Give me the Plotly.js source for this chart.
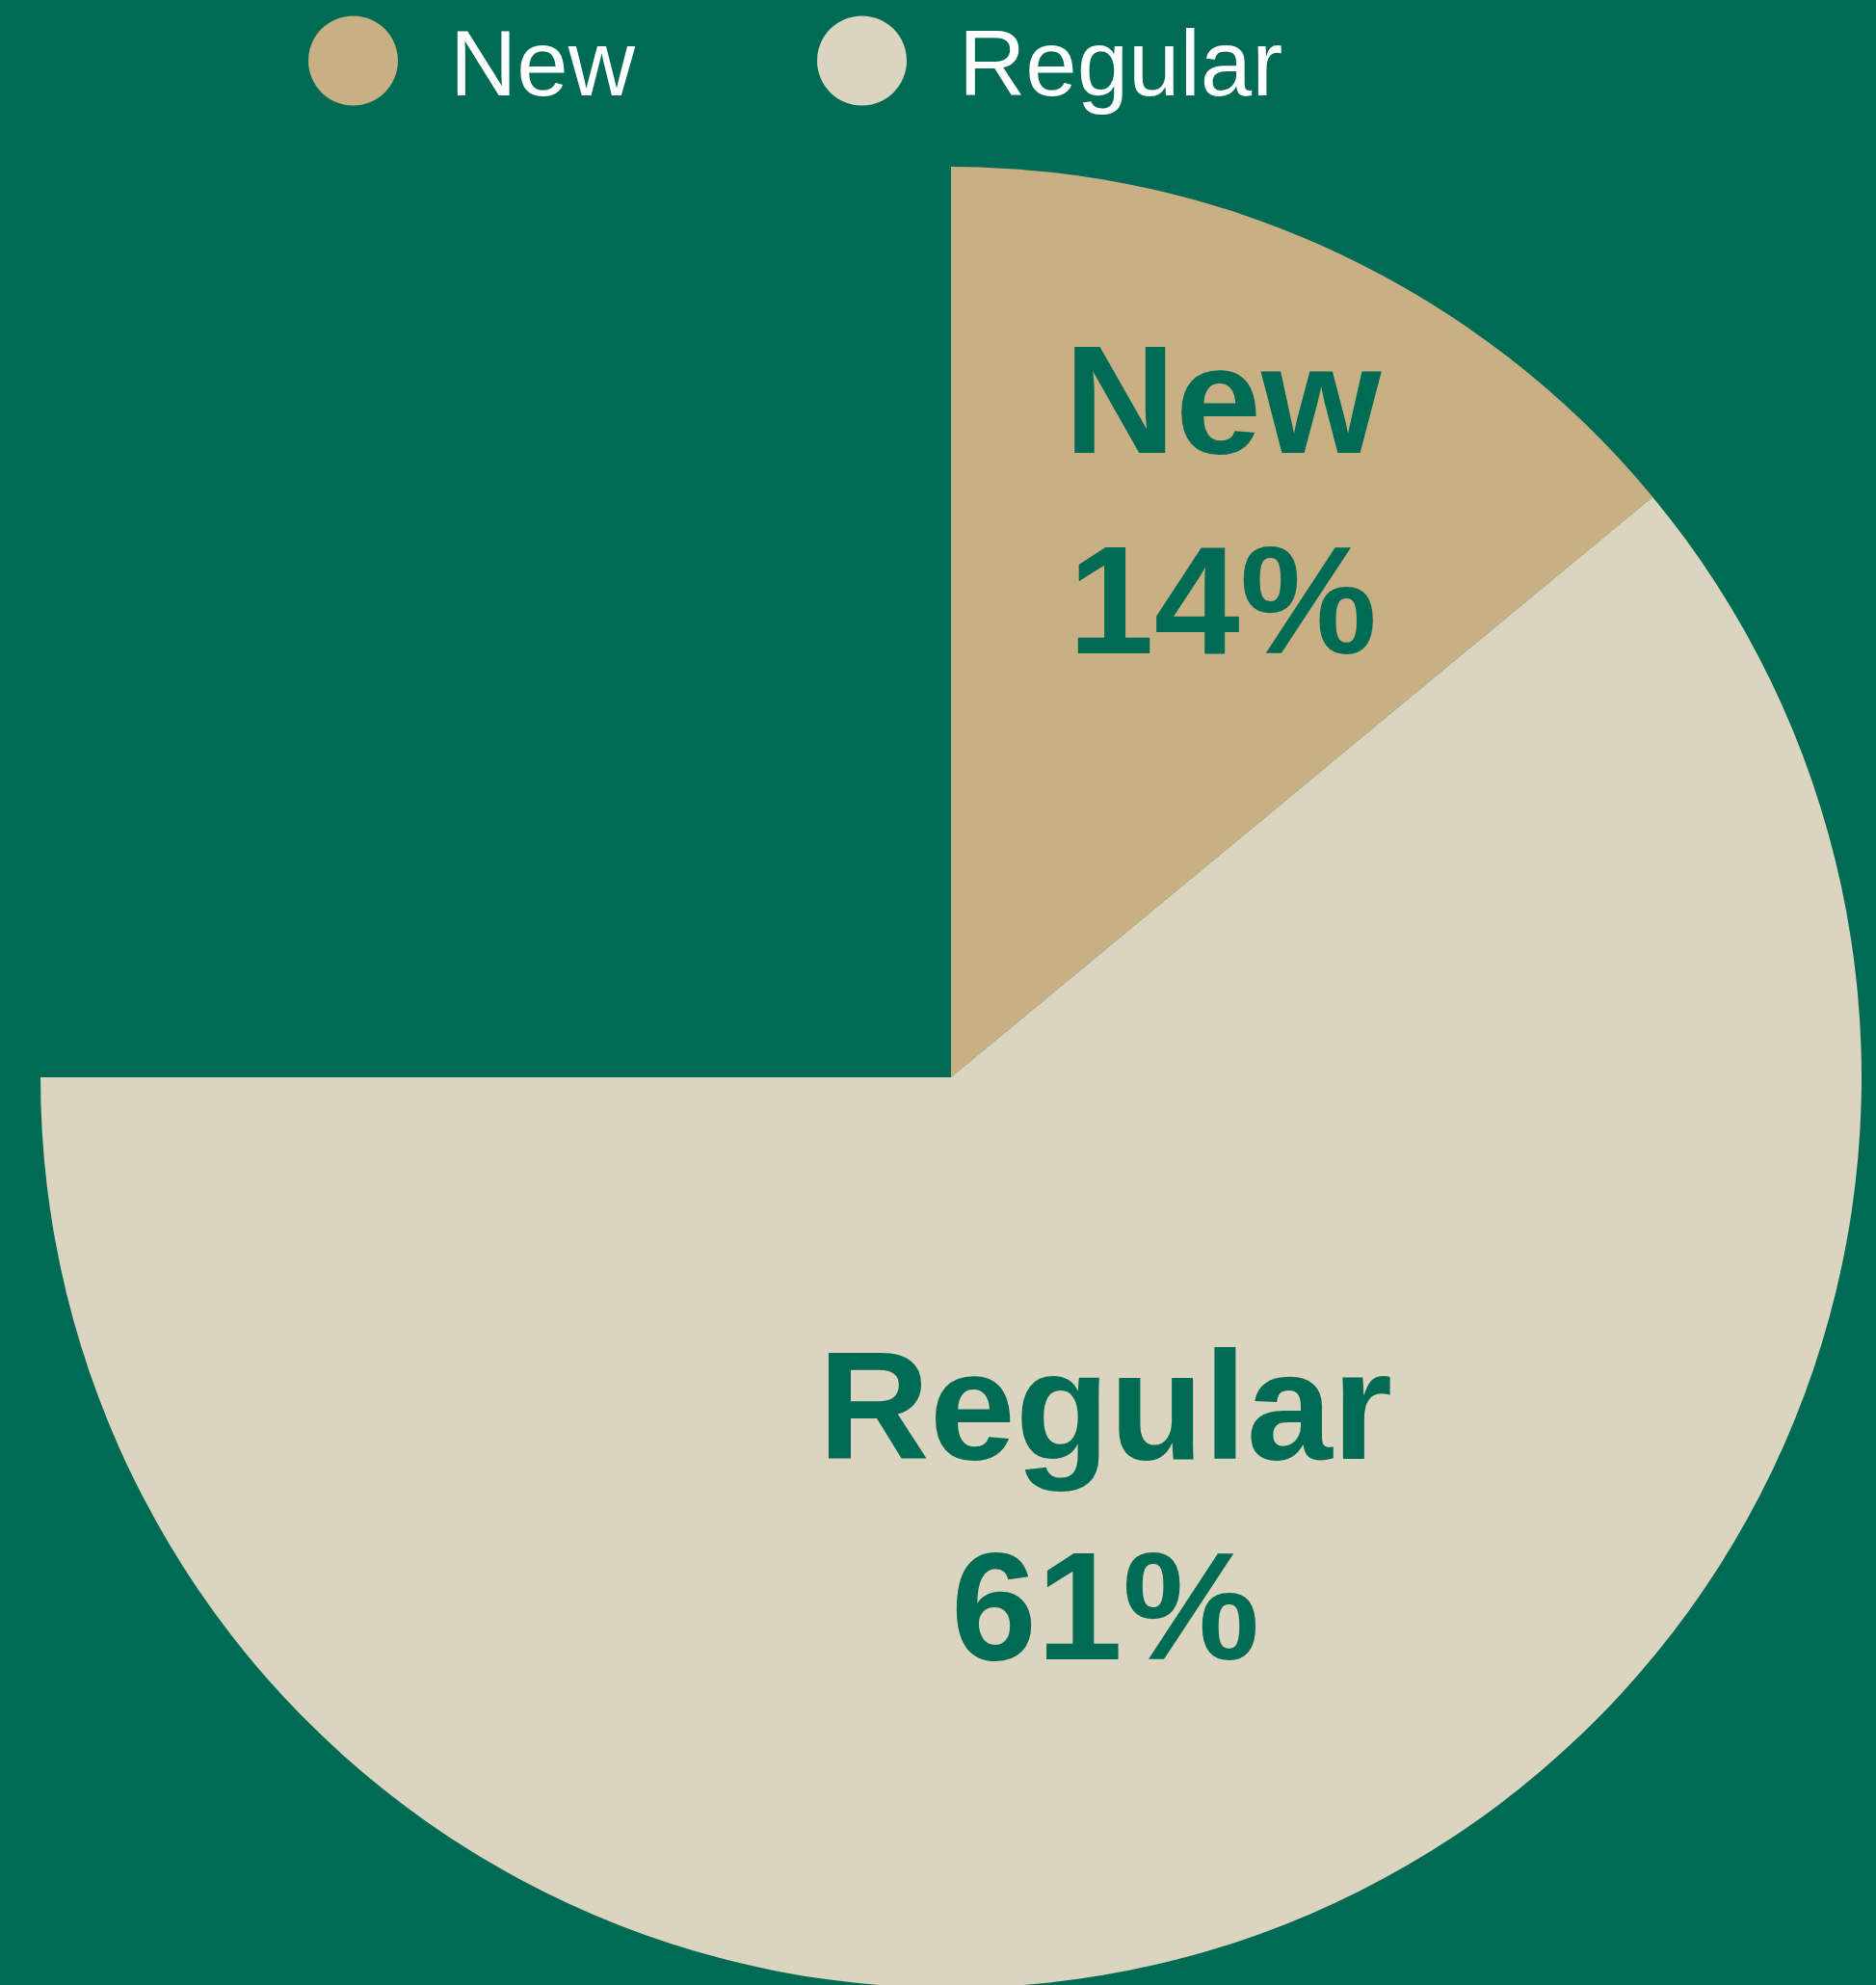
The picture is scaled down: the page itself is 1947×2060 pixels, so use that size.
<!DOCTYPE html>
<html>
<head>
<meta charset="utf-8">
<script src="https://cdn.plot.ly/plotly-3.0.1.min.js"></script>
<style>html,body{margin:0;padding:0;background:#006B54;overflow:hidden;}</style>
</head>
<body>
<div id="chart" style="width:1947px;height:2063px;"></div>
<script>
// Data
const categories = ['New', 'Regular', 'Other'];
const values = [14, 61, 25];
const legendCategories = ['New', 'Regular'];

// Styles
const BG = '#006B54';
const sliceColors = ['#C9B084', '#DBD4BE', BG];
const W = 1947, H = 2063;

const pie = {
  type: 'pie',
  labels: categories,
  values: values,
  sort: false,
  direction: 'clockwise',
  rotation: 0,
  marker: {colors: sliceColors, line: {width: 0}},
  texttemplate: categories.map((c, i) => i < 2 ? '<b>%{label}</b><br><b>%{percent}</b>' : ''),
  textposition: 'inside',
  insidetextorientation: 'horizontal',
  textfont: {family: '"Liberation Sans", Arial, sans-serif', size: 160, color: BG},
  hoverinfo: 'none',
  showlegend: false,
  domain: {x: [42 / W, 1932 / W], y: [0, 1890 / H]}
};

// Legend built from categories
const legendX = [366.5, 894.5];
const shapes = [], annotations = [];
legendCategories.forEach((c, i) => {
  const cx = legendX[i], cy = 63, r = 46.5;
  shapes.push({type: 'circle', xref: 'paper', yref: 'paper',
    x0: (cx - r) / W, x1: (cx + r) / W, y0: 1 - (cy + r) / H, y1: 1 - (cy - r) / H,
    fillcolor: sliceColors[categories.indexOf(c)], line: {width: 0}});
  annotations.push({text: c, xref: 'paper', yref: 'paper', x: (cx + 98) / W, y: 1 - 65 / H,
    xanchor: 'left', yanchor: 'middle', showarrow: false,
    font: {family: '"Liberation Sans", Arial, sans-serif', size: 96, color: '#FFFFFF', weight: 300}});
});

const layout = {
  width: W, height: H,
  paper_bgcolor: BG, plot_bgcolor: BG,
  margin: {l: 0, r: 0, t: 0, b: 0},
  showlegend: false,
  shapes: shapes,
  annotations: annotations
};

Plotly.newPlot('chart', [pie], layout, {displayModeBar: false, staticPlot: true});
</script>
</body>
</html>
